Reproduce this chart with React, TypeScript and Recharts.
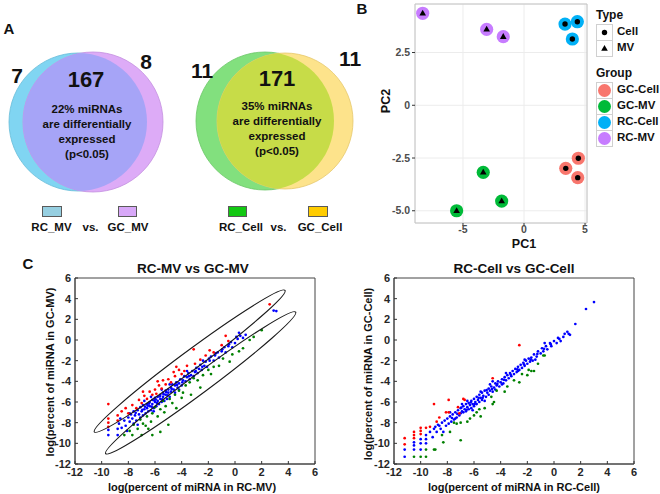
import type { ReactNode } from 'react'
import { ScatterChart, Scatter, XAxis, YAxis, CartesianGrid, ReferenceArea } from 'recharts'

const FONT = '"Liberation Sans", Arial, Helvetica, sans-serif'

// ── Panel A data (Venn) ────────────────────────────────────────────────────────
const vennSets = ['RC_MV', 'GC_MV', 'RC_Cell', 'GC_Cell']
const mvCounts = [7, 167, 8]
const cellCounts = [11, 171, 11]
const diffPct = ['22%', '35%']

// ── Panel B data (PCA) ─────────────────────────────────────────────────────────
const pcaGroups = ['GC-Cell', 'GC-MV', 'RC-Cell', 'RC-MV']
const pcaTypes = ['Cell', 'MV', 'Cell', 'MV']
const pcaColors = ['#F8766D', '#00BA38', '#00B0F6', '#C77CFF']
const gcCellPC = [[4.45, -2.51], [3.42, -2.99], [4.4, -3.43]]
const gcMvPC = [[-3.34, -3.18], [-1.83, -4.54], [-5.52, -5.0]]
const rcCellPC = [[3.36, 3.85], [4.37, 3.96], [3.96, 3.14]]
const rcMvPC = [[-8.3, 4.36], [-3.06, 3.6], [-1.7, 3.25]]
const pcaPoints = [gcCellPC, gcMvPC, rcCellPC, rcMvPC]
const pc1Ticks = [-5, 0, 5]
const pc2Ticks = [-5, -2.5, 0, 2.5]

// ── Panel C data (scatter, log percent) ────────────────────────────────────────
const logTicks = [-12, -10, -8, -6, -4, -2, 0, 2, 4, 6]

const mvBlue = [
  [-9.5, -9.2], [-9.5, -8.7], [-8.8, -9.2], [-8.8, -8.6], [-8.7, -8.1], [-8.5, -8.5], [-8.3, -7.8], [-8.2, -8.3],
  [-8.0, -7.5], [-7.9, -7.9], [-7.8, -7.2], [-7.7, -7.6], [-7.6, -6.9], [-7.5, -7.3], [-7.4, -7.8], [-7.3, -6.8],
  [-7.2, -7.2], [-7.1, -6.5], [-7.0, -6.9], [-6.9, -7.3], [-6.9, -6.3], [-6.8, -6.7], [-6.7, -7.1], [-6.6, -6.2],
  [-6.6, -6.6], [-6.5, -6.9], [-6.4, -6.0], [-6.4, -6.4], [-6.3, -6.8], [-6.2, -5.8], [-6.2, -6.2], [-6.1, -6.6],
  [-6.0, -5.6], [-6.0, -6.0], [-5.9, -6.4], [-5.8, -5.5], [-5.8, -5.9], [-5.7, -6.2], [-5.6, -5.3], [-5.6, -5.7],
  [-5.5, -6.0], [-5.4, -5.1], [-5.4, -5.5], [-5.3, -5.9], [-5.2, -4.9], [-5.2, -5.3], [-5.1, -5.7], [-5.0, -4.8],
  [-5.0, -5.1], [-4.9, -5.5], [-4.8, -4.6], [-4.8, -5.0], [-4.7, -4.3], [-4.6, -4.8], [-4.5, -4.4], [-4.5, -5.1],
  [-4.4, -4.1], [-4.3, -4.6], [-4.2, -4.2], [-4.1, -3.8], [-4.0, -4.4], [-3.9, -3.9], [-3.8, -3.5], [-3.7, -4.0],
  [-3.6, -3.6], [-3.5, -3.2], [-3.4, -3.8], [-3.3, -3.4], [-3.2, -3.0], [-3.1, -3.5], [-3.0, -3.1], [-2.9, -2.7],
  [-2.8, -3.2], [-2.7, -2.8], [-2.6, -2.4], [-2.5, -2.9], [-2.3, -2.5], [-2.2, -2.1], [-2.1, -2.6], [-1.9, -2.0],
  [-1.8, -1.6], [-1.6, -2.0], [-1.5, -1.5], [-1.3, -1.2], [-1.2, -1.7], [-1.0, -1.1], [-0.8, -0.7], [-0.7, -1.2],
  [-0.5, -0.6], [-0.3, -0.2], [-0.2, -0.7], [0.0, -0.3], [0.2, 0.1], [0.3, 0.7], [0.4, 0.4], [0.6, 0.2],
  [0.8, 0.5], [2.9, 2.85], [3.1, 2.8], [-8.6, -7.6], [-8.1, -8.8], [-7.3, -8.2], [-6.8, -5.9], [-6.1, -6.9],
  [-5.5, -4.8], [-4.9, -4.3], [-4.2, -4.8], [-3.6, -3.0], [-2.4, -2.0], [-7.6, -8.1], [-6.3, -5.5],
  [-7.9, -7.1], [-7.1, -7.5], [-6.75, -6.45], [-6.45, -6.15], [-6.05, -5.85], [-5.85, -6.1], [-5.65, -5.45],
  [-5.35, -5.25], [-5.05, -5.35], [-4.75, -4.75], [-4.35, -4.35], [-3.95, -4.1], [-3.45, -3.5], [-2.95, -3.0],
  [-2.45, -2.6], [-1.95, -1.8], [-1.45, -1.3], [-0.95, -0.9], [-0.45, -0.4], [0.1, 0.3], [-7.45, -7.05],
  [-6.95, -6.75], [-6.55, -6.35], [-6.25, -6.45], [-5.95, -5.75], [-5.45, -5.75], [-5.15, -5.05],
]
const mvRed = [
  [-9.5, -6.2], [-9.5, -7.6], [-9.5, -8.0], [-9.5, -8.4], [-8.8, -7.3], [-8.8, -7.8], [-8.5, -6.9], [-8.2, -6.6],
  [-8.0, -7.1], [-7.7, -6.3], [-7.4, -6.6], [-7.2, -5.8], [-7.0, -6.1], [-6.8, -5.4], [-6.6, -5.7], [-6.4, -5.0],
  [-6.2, -5.3], [-6.0, -4.8], [-5.9, -5.2], [-5.7, -4.4], [-5.5, -4.7], [-5.4, -3.9], [-5.2, -4.3], [-5.0, -3.8],
  [-4.8, -4.1], [-4.6, -3.1], [-4.5, -3.5], [-4.2, -2.9], [-4.0, -3.3], [-3.8, -3.0], [-3.6, -2.5], [-3.1, -0.9],
  [-3.0, -2.3], [-2.6, -1.9], [-2.2, -1.5], [-1.9, -1.0], [-1.6, -1.2], [-1.0, -0.5], [-0.7, 0.4], [-0.5, -0.1],
  [2.6, 3.45], [-6.9, -5.0], [-5.8, -4.0], [-4.4, -2.6],
]
const mvGreen = [
  [2.0, 0.95], [1.4, 0.3], [1.1, 0.0], [0.6, -0.8], [0.3, -1.1], [-0.2, -1.4], [-0.4, -2.1], [-0.9, -1.8],
  [-1.2, -2.5], [-1.6, -2.6], [-2.0, -2.9], [-2.4, -3.4], [-2.6, -4.6], [-2.8, -3.9], [-3.1, -3.7], [-3.4, -4.1],
  [-3.7, -4.4], [-3.9, -5.1], [-4.2, -4.9], [-4.5, -5.3], [-4.7, -6.1], [-4.9, -5.7], [-5.0, -8.2], [-5.2, -6.4],
  [-5.4, -5.9], [-5.6, -6.7], [-5.8, -7.4], [-6.0, -6.5], [-6.2, -7.1], [-6.3, -7.9], [-6.5, -8.6], [-6.6, -7.4],
  [-6.9, -8.1], [-7.0, -9.2], [-7.1, -7.7], [-7.3, -8.6], [-7.6, -8.2], [-7.7, -9.2], [-7.9, -8.8], [-8.3, -9.2],
  [-6.2, -9.2], [-5.6, -8.9], [-4.4, -6.6], [-3.3, -5.3], [-1.8, -3.3], [-4.0, -5.6], [-5.3, -7.0], [-6.7, -8.3],
]
// ellipse end points (data units): upper and lower group
const mvEllipses = [
  [[-10.55, -8.9], [3.75, 4.8]],
  [[-9.7, -11.0], [4.55, 2.7]],
]

const cellBlue = [
  [-11.2, -10.6], [-11.2, -11.3], [-10.5, -9.9], [-10.5, -10.2], [-10.5, -10.6], [-10.0, -9.6], [-10.0, -10.0],
  [-10.0, -10.6], [-9.6, -9.2], [-9.6, -9.6], [-9.6, -10.0], [-9.3, -8.9], [-9.1, -9.4], [-9.0, -8.6], [-8.8, -8.9],
  [-8.7, -8.2], [-8.5, -8.6], [-8.4, -8.0], [-8.3, -8.9], [-8.2, -7.8], [-8.1, -8.3], [-8.0, -7.6], [-7.9, -8.1],
  [-7.8, -7.4], [-7.7, -7.9], [-7.6, -7.2], [-7.5, -7.7], [-7.4, -7.0], [-7.3, -7.5], [-7.2, -6.8], [-7.1, -7.3],
  [-7.0, -6.6], [-7.0, -7.1], [-6.9, -6.9], [-6.8, -6.4], [-6.8, -7.0], [-6.7, -6.7], [-6.6, -6.2], [-6.6, -6.9],
  [-6.5, -6.5], [-6.4, -6.1], [-6.4, -6.7], [-6.3, -6.3], [-6.2, -5.9], [-6.2, -6.6], [-6.1, -6.2], [-6.0, -5.7],
  [-6.0, -6.4], [-5.9, -6.0], [-5.8, -5.5], [-5.8, -6.2], [-5.7, -5.8], [-5.6, -5.3], [-5.6, -6.0], [-5.5, -5.6],
  [-5.4, -5.1], [-5.4, -5.8], [-5.3, -5.4], [-5.2, -4.9], [-5.1, -5.5], [-5.0, -5.1], [-4.9, -4.7], [-4.9, -5.3],
  [-4.8, -4.9], [-4.7, -4.5], [-4.6, -5.0], [-4.5, -4.6], [-4.4, -4.2], [-4.4, -4.8], [-4.3, -4.4], [-4.2, -4.0],
  [-4.1, -4.5], [-4.0, -4.1], [-3.9, -3.8], [-3.8, -4.2], [-3.7, -3.6], [-3.6, -3.9], [-3.5, -3.4], [-3.4, -3.7],
  [-3.3, -3.2], [-3.2, -3.5], [-3.1, -3.0], [-3.0, -3.3], [-2.9, -2.8], [-2.8, -3.1], [-2.7, -2.6], [-2.6, -2.9],
  [-2.5, -2.4], [-2.4, -2.7], [-2.3, -2.2], [-2.2, -2.5], [-2.1, -2.0], [-2.0, -2.3], [-1.9, -1.8], [-1.8, -2.1],
  [-1.7, -1.7], [-1.6, -2.0], [-1.5, -1.4], [-1.3, -1.6], [-1.2, -1.1], [-1.0, -1.3], [-0.9, -0.8], [-0.8, -1.1],
  [-0.6, -0.6], [-0.5, -0.9], [-0.3, -0.3], [-0.2, -0.6], [0.0, -0.1], [0.2, -0.3], [0.4, 0.1], [0.5, -0.1],
  [0.7, 0.3], [0.8, 0.6], [1.0, 0.8], [1.1, 0.6], [1.2, 0.5], [1.6, 1.55], [2.4, 3.0], [3.0, 3.67],
  [-6.9, -6.2], [-5.5, -5.0], [-4.8, -4.3], [-3.6, -3.2], [-2.2, -1.9], [-7.4, -7.6], [-6.1, -6.8], [-5.2, -5.9],
  [-8.6, -8.3], [-7.8, -7.0], [-6.5, -5.9], [-4.6, -4.0], [-3.9, -4.3], [-2.7, -3.0], [-1.4, -1.9], [-0.7, -0.3],
  [-7.25, -7.15], [-6.95, -6.55], [-6.55, -6.75], [-6.25, -6.05], [-5.95, -6.2], [-5.65, -5.6], [-5.35, -5.6],
  [-5.05, -4.85], [-4.65, -4.75], [-4.25, -4.25], [-3.75, -3.85], [-3.25, -3.35], [-2.75, -2.85], [-2.25, -2.35],
  [-1.75, -1.9], [-1.25, -1.35], [-0.75, -0.85], [-0.25, -0.4], [0.3, 0.2], [-8.9, -8.4], [-7.65, -7.55],
]
const cellRed = [
  [-11.2, -9.5], [-11.2, -10.1], [-10.5, -8.9], [-10.5, -9.2], [-10.5, -9.5], [-10.0, -8.5], [-10.0, -8.8],
  [-10.0, -9.1], [-9.6, -8.5], [-9.3, -8.4], [-9.0, -6.2], [-8.8, -7.9], [-8.6, -7.5], [-8.1, -7.0], [-7.9, -5.8],
  [-7.9, -7.0], [-7.2, -6.5], [-7.1, -7.1], [-6.8, -5.7], [-6.7, -5.8], [-4.6, -3.7], [-2.6, -0.5],
]
const cellGreen = [
  [-10.5, -11.3], [-10.0, -11.3], [-9.6, -10.6], [-9.6, -11.3], [-9.0, -10.6], [-8.9, -10.6], [-8.4, -9.2],
  [-8.3, -9.9], [-7.8, -8.9], [-7.5, -8.0], [-7.0, -9.7], [-7.3, -8.1], [-7.0, -8.0], [-6.5, -7.9], [-6.3, -7.6],
  [-6.0, -7.3], [-5.8, -7.0], [-5.5, -7.4], [-5.6, -6.7], [-5.2, -6.6], [-4.6, -6.2], [-4.5, -6.0], [-4.7, -5.5],
  [-4.3, -4.9], [-3.7, -5.0], [-3.5, -4.5], [-3.0, -3.9], [-2.6, -4.1], [-2.4, -3.3], [-2.0, -3.4], [-1.7, -3.0],
  [-1.5, -3.0], [-1.9, -2.9], [-1.2, -2.3], [-0.8, -1.5], [-0.7, -1.5],
]

// ── helpers ────────────────────────────────────────────────────────────────────

const toXY = (pts: number[][]) => pts.map(([x, y]) => ({ x, y }))

function Txt({ x, y, size, children, rotate, weight = 'bold' }: {
  x: number; y: number; size: number; children: ReactNode; rotate?: boolean; weight?: string
}) {
  return (
    <div style={{
      position: 'absolute', left: x, top: y, fontSize: size, fontWeight: weight as any, lineHeight: 1,
      whiteSpace: 'nowrap', color: '#111',
      transform: `translate(-50%, -50%)${rotate ? ' rotate(-90deg)' : ''}`,
    }}>{children}</div>
  )
}

// ── Panel A ────────────────────────────────────────────────────────────────────

// circle layout in pixels (chart uses a 1:1 px scale)
const vennCircles = [
  { x: 78, y: 122, r: 69, fill: '#80d5f2', stroke: '#68bcd8' },
  { x: 93, y: 122, r: 70, fill: '#ddabf7', stroke: '#c490e0' },
  { x: 265, y: 121, r: 69, fill: '#82e07e', stroke: '#6cc768' },
  { x: 285, y: 121, r: 68, fill: '#fde38b', stroke: '#e6c86c' },
]
const vennOverlaps = [{ a: 0, b: 1, fill: '#a6a4f7' }, { a: 2, b: 3, fill: '#c7dc48' }]

function VennShape(props: any) {
  const { cx, cy, payload } = props
  if (payload.clip) {
    const id = `venn-clip-${payload.id}`
    return (
      <g>
        <defs>
          <clipPath id={id}><circle cx={cx + payload.ox} cy={cy + payload.oy} r={payload.or} /></clipPath>
        </defs>
        <circle cx={cx} cy={cy} r={payload.r} fill={payload.fill} clipPath={`url(#${id})`} />
      </g>
    )
  }
  return <circle cx={cx} cy={cy} r={payload.r} fill={payload.fill} stroke={payload.stroke} strokeWidth={0.8} />
}

function VennPanel() {
  const data = [
    ...vennCircles.map(c => ({ ...c })),
    ...vennOverlaps.map((o, i) => {
      const a = vennCircles[o.a], b = vennCircles[o.b]
      return { x: a.x, y: a.y, r: a.r, fill: o.fill, clip: true, id: i, ox: b.x - a.x, oy: b.y - a.y, or: b.r }
    }),
  ]
  const textLines = (pct: string) => [`${pct} miRNAs`, 'are differentially', 'expressed', '(p<0.05)']
  const boxes = [
    { x: 42, w: 20, fill: '#96cfe1' }, { x: 118, w: 19, fill: '#d8a8f8' },
    { x: 228, w: 19, fill: '#12c812' }, { x: 308, w: 20, fill: '#ffcc00' },
  ]
  return (
    <div style={{ position: 'absolute', left: 0, top: 0, width: 360, height: 250 }}>
      <ScatterChart width={360} height={250} margin={{ top: 0, right: 0, bottom: 0, left: 0 }}>
        <XAxis type="number" dataKey="x" domain={[0, 360]} hide />
        <YAxis type="number" dataKey="y" domain={[0, 250]} reversed hide />
        <Scatter data={data} shape={VennShape} isAnimationActive={false} />
      </ScatterChart>
      <Txt x={17} y={75} size={21}>{mvCounts[0]}</Txt>
      <Txt x={86} y={80} size={22}>{mvCounts[1]}</Txt>
      <Txt x={146} y={61} size={21}>{mvCounts[2]}</Txt>
      {textLines(diffPct[0]).map((t, i) => (
        <Txt key={t} x={87} y={110 + i * 15} size={11.5}>{t}</Txt>
      ))}
      <Txt x={202} y={70} size={21}>{cellCounts[0]}</Txt>
      <Txt x={277} y={79} size={22}>{cellCounts[1]}</Txt>
      <Txt x={350} y={58} size={21}>{cellCounts[2]}</Txt>
      {textLines(diffPct[1]).map((t, i) => (
        <Txt key={t} x={277} y={107 + i * 15} size={11.5}>{t}</Txt>
      ))}
      {boxes.map((b, i) => (
        <div key={i} style={{
          position: 'absolute', left: b.x, top: 206, width: b.w, height: 11,
          background: b.fill, border: '1px solid #5a5a5a', boxSizing: 'border-box',
        }} />
      ))}
      <Txt x={51.5} y={228} size={11.5}>{vennSets[0]}</Txt>
      <Txt x={90.5} y={228} size={11.5}>vs.</Txt>
      <Txt x={128} y={228} size={11.5}>{vennSets[1]}</Txt>
      <Txt x={241} y={228} size={11.5}>{vennSets[2]}</Txt>
      <Txt x={278.5} y={228} size={11.5}>vs.</Txt>
      <Txt x={320} y={228} size={11.5}>{vennSets[3]}</Txt>
    </div>
  )
}

// ── Panel B ────────────────────────────────────────────────────────────────────

const PC1_DOMAIN = [-8.93, 5.16]
const PC2_DOMAIN = [-5.58, 4.8]

function TypeMark({ cx, cy, type }: { cx: number; cy: number; type: string }) {
  if (type === 'Cell') return <circle cx={cx} cy={cy} r={2.7} fill="#000" />
  return <path d={`M${cx},${cy - 3.6} L${cx + 3.3},${cy + 2.2} L${cx - 3.3},${cy + 2.2} Z`} fill="#000" />
}

function PcaShape(props: any) {
  const { cx, cy, payload } = props
  return (
    <g>
      <circle cx={cx} cy={cy} r={6.6} fill={payload.color} />
      <TypeMark cx={cx} cy={cy} type={payload.type} />
    </g>
  )
}

function PcaPanel() {
  const axisTick = { fontSize: 10.5, fontWeight: 'bold', fill: '#4d4d4d' }
  return (
    <div style={{ position: 'absolute', left: 370, top: 0, width: 222, height: 250 }}>
      <ScatterChart width={222} height={250} margin={{ top: 4, right: 5, bottom: 0, left: 0 }}>
        <CartesianGrid stroke="#ececec" />
        <XAxis type="number" dataKey="x" domain={PC1_DOMAIN} ticks={pc1Ticks} allowDataOverflow
          height={27} tick={axisTick} tickSize={3} tickMargin={0} axisLine={false}
          tickLine={{ stroke: '#333' }} interval={0} />
        <YAxis type="number" dataKey="y" domain={PC2_DOMAIN} ticks={pc2Ticks} allowDataOverflow
          width={45} tick={axisTick} tickSize={3} tickMargin={2} axisLine={false}
          tickLine={{ stroke: '#333' }} interval={0}
          tickFormatter={(v: number) => (v === 0 ? '0' : v.toFixed(1))} />
        <ReferenceArea x1={PC1_DOMAIN[0]} x2={PC1_DOMAIN[1]} y1={PC2_DOMAIN[0]} y2={PC2_DOMAIN[1]}
          fill="none" stroke="#c4c4c4" strokeWidth={1} />
        {pcaGroups.map((g, i) => (
          <Scatter key={g} name={g} isAnimationActive={false} shape={PcaShape}
            data={pcaPoints[i].map(([x, y]) => ({ x, y, color: pcaColors[i], type: pcaTypes[i] }))} />
        ))}
      </ScatterChart>
    </div>
  )
}

function PcaLegend() {
  const keyBox = (top: number, content: ReactNode, key: string) => (
    <svg key={key} width={17} height={17} style={{ position: 'absolute', left: 596, top }}>
      <rect x={0.5} y={0.5} width={16} height={16} fill="#fff" stroke="#d0d0d0" />
      {content}
    </svg>
  )
  const types = ['Cell', 'MV']
  return (
    <>
      <div style={{ position: 'absolute', left: 596, top: 9, fontSize: 12, fontWeight: 'bold', lineHeight: 1 }}>Type</div>
      {types.map((t, i) => keyBox(24 + i * 16, <TypeMark cx={8.5} cy={8.5} type={t} />, t))}
      {types.map((t, i) => (
        <div key={t} style={{ position: 'absolute', left: 617, top: 26 + i * 16, fontSize: 11.5, fontWeight: 'bold', lineHeight: 1 }}>{t}</div>
      ))}
      <div style={{ position: 'absolute', left: 596, top: 67, fontSize: 12, fontWeight: 'bold', lineHeight: 1 }}>Group</div>
      {pcaGroups.map((g, i) => keyBox(82 + i * 16, <circle cx={8.5} cy={8.5} r={6.5} fill={pcaColors[i]} />, g))}
      {pcaGroups.map((g, i) => (
        <div key={g} style={{ position: 'absolute', left: 617, top: 84 + i * 16, fontSize: 11.5, fontWeight: 'bold', lineHeight: 1 }}>{g}</div>
      ))}
    </>
  )
}

// ── Panel C ────────────────────────────────────────────────────────────────────

const PLOT_W = 240
const PLOT_H = 186
const LOG_SPAN = 18

const dot = (color: string) => (props: any) => <circle cx={props.cx} cy={props.cy} r={1.35} fill={color} />

function EllipseShape(props: any) {
  const { cx, cy, payload } = props
  const dx = (payload.x2 - payload.x1) * (PLOT_W / LOG_SPAN)
  const dy = -(payload.y2 - payload.y1) * (PLOT_H / LOG_SPAN)
  const len = Math.hypot(dx, dy)
  const ang = (Math.atan2(dy, dx) * 180) / Math.PI
  return (
    <ellipse cx={cx} cy={cy} rx={len / 2} ry={9.5} fill="none" stroke="#1a1a1a" strokeWidth={1.1}
      transform={`rotate(${ang} ${cx} ${cy})`} />
  )
}

function LogScatter({ left, yAxisWidth, blue, red, green, ellipses }: {
  left: number; yAxisWidth: number; blue: number[][]; red: number[][]; green: number[][]; ellipses?: number[][][]
}) {
  const tick = { fontSize: 11, fontWeight: 'bold', fill: '#262626' }
  const ellData = (ellipses ?? []).map(([[x1, y1], [x2, y2]]) => ({ x: (x1 + x2) / 2, y: (y1 + y2) / 2, x1, y1, x2, y2 }))
  return (
    <div style={{ position: 'absolute', left, top: 250, width: 330, height: 244 }}>
      <ScatterChart width={330} height={244}
        margin={{ top: 28, right: 330 - yAxisWidth - PLOT_W, bottom: 0, left: 0 }}>
        <XAxis type="number" dataKey="x" domain={[-12, 6]} ticks={logTicks} interval={0} height={30}
          tick={tick} tickSize={-3} tickMargin={7} tickLine={{ stroke: '#333' }} axisLine={{ stroke: '#444' }} />
        <YAxis type="number" dataKey="y" domain={[-12, 6]} ticks={logTicks} interval={0} width={yAxisWidth}
          tick={tick} tickSize={-3} tickMargin={7} tickLine={{ stroke: '#333' }} axisLine={{ stroke: '#444' }} />
        <ReferenceArea x1={-12} x2={6} y1={-12} y2={6} fill="none" stroke="#444" strokeWidth={1} />
        <Scatter data={toXY(blue)} shape={dot('#0000ff')} isAnimationActive={false} />
        <Scatter data={toXY(red)} shape={dot('#ff0000')} isAnimationActive={false} />
        <Scatter data={toXY(green)} shape={dot('#008000')} isAnimationActive={false} />
        {ellData.length > 0 && <Scatter data={ellData} shape={EllipseShape} isAnimationActive={false} />}
      </ScatterChart>
    </div>
  )
}

export default function App() {
  return (
    <div style={{
      position: 'absolute', left: 0, top: 0, width: 660, height: 494, background: '#fff',
      overflow: 'hidden', fontFamily: FONT, color: '#111',
    }}>
      <VennPanel />
      <PcaPanel />
      <PcaLegend />
      <Txt x={524} y={244} size={12.5}>PC1</Txt>
      <Txt x={386} y={101} size={12.5} rotate>PC2</Txt>

      <LogScatter left={0} yAxisWidth={75} blue={mvBlue} red={mvRed} green={mvGreen} ellipses={mvEllipses} />
      <LogScatter left={330} yAxisWidth={64} blue={cellBlue} red={cellRed} green={cellGreen} />

      <Txt x={193} y={269} size={13.5}>RC-MV vs GC-MV</Txt>
      <Txt x={514} y={269} size={13.5}>RC-Cell vs GC-Cell</Txt>
      <Txt x={192} y={487} size={11}>log(percent of miRNA in RC-MV)</Txt>
      <Txt x={514} y={487} size={11}>log(percent of miRNA in RC-Cell)</Txt>
      <Txt x={50} y={372} size={11} rotate>log(percent of miRNA in GC-MV)</Txt>
      <Txt x={368} y={374} size={11} rotate>log(percent of miRNA in GC-Cell)</Txt>

      <Txt x={9} y={28} size={15}>A</Txt>
      <Txt x={362} y={8} size={15}>B</Txt>
      <Txt x={28} y={263} size={15}>C</Txt>
    </div>
  )
}
